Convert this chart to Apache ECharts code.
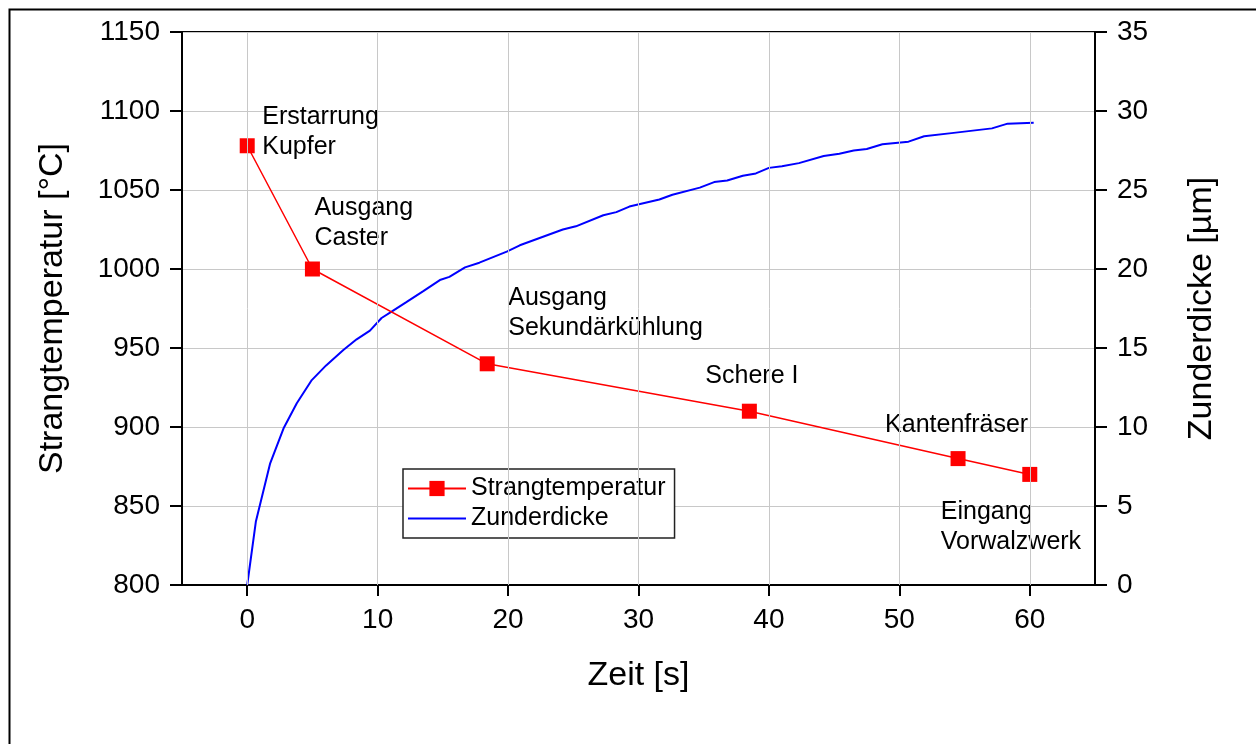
<!DOCTYPE html>
<html>
<head>
<meta charset="utf-8">
<script src="https://cdn.jsdelivr.net/npm/echarts@6/dist/echarts.min.js"></script>
<style>html,body{margin:0;padding:0;background:#fff}#c{width:1256px;height:744px}</style>
</head>
<body>
<div id="c"></div>
<script>
// Strangtemperatur (red, left axis)
const tempTime = [0, 5, 18.4, 38.5, 54.5, 60];
const tempValues = [1078, 1000, 940, 910, 880, 870];
const tempNotes = ['Erstarrung\nKupfer', 'Ausgang\nCaster', 'Ausgang\nSekundärkühlung', 'Schere I', 'Kantenfräser', 'Eingang\nVorwalzwerk'];
// Zunderdicke (blue, right axis)
const scaleTime = [0, 0.66, 1.76, 2.78, 3.8, 4.95, 6.05, 7.37, 8.39, 9.41, 10.3, 11.07, 12.2, 13.5, 14.77, 15.5, 16.7, 17.8, 19.9, 20.9, 24.2, 25.2, 27.3, 28.3, 29.3, 31.6, 32.6, 34.7, 35.8, 36.8, 38.0, 39.0, 40.0, 41.0, 42.3, 44.2, 45.4, 46.5, 47.5, 48.7, 50.7, 51.9, 54.0, 57.1, 58.3, 60.3];
const scaleValues = [0, 4.0, 7.7, 9.9, 11.5, 12.97, 13.9, 14.87, 15.55, 16.1, 16.9, 17.3, 17.9, 18.6, 19.3, 19.5, 20.1, 20.4, 21.1, 21.5, 22.5, 22.7, 23.4, 23.6, 23.95, 24.4, 24.7, 25.15, 25.5, 25.6, 25.9, 26.05, 26.4, 26.5, 26.7, 27.15, 27.3, 27.5, 27.6, 27.9, 28.06, 28.4, 28.6, 28.9, 29.2, 29.26];
const xTicks = [0, 10, 20, 30, 40, 50, 60];

const FONT = '"Liberation Sans", Arial, sans-serif';
const noteOffsets = [[15, -14], [2, -46], [21, -51], [-44, -35], [-73, -33], [-89, 53]];

const chart = echarts.init(document.getElementById('c'), null, {renderer: 'canvas'});
const axisLineStyle = {color: '#000', width: 2};
const plain = v => String(v);
const option = {
  animation: false,
  backgroundColor: '#fff',
  textStyle: {fontFamily: FONT},
  graphic: [{
    type: 'rect', left: 7, top: 7, z: 100,
    shape: {width: 1300, height: 800},
    style: {fill: 'none', stroke: '#000', lineWidth: 2}
  }],
  grid: {left: 182, top: 32, right: 161, bottom: 159, show: true, borderColor: '#000', borderWidth: 2, backgroundColor: 'transparent'},
  legend: {
    orient: 'vertical', left: 403, top: 469,
    data: [{name: 'Strangtemperatur'}, {name: 'Zunderdicke', itemStyle: {opacity: 0}}],
    itemWidth: 58, itemHeight: 19, itemGap: 5,
    padding: [7, 9, 7, 4],
    borderColor: '#222', borderWidth: 1.5, backgroundColor: '#fff',
    textStyle: {fontSize: 25, color: '#000', fontFamily: FONT}
  },
  xAxis: {
    type: 'value', min: -5, max: 65,
    name: 'Zeit [s]', nameLocation: 'middle', nameGap: 74,
    nameTextStyle: {fontSize: 34, color: '#000', fontFamily: FONT},
    axisLine: {onZero: false, lineStyle: axisLineStyle},
    axisTick: {show: true, length: 11, lineStyle: {color: '#000', width: 2}, customValues: xTicks},
    axisLabel: {fontSize: 28, color: '#000', margin: 21, customValues: xTicks, fontFamily: FONT, formatter: plain},
    splitLine: {show: false}
  },
  yAxis: [{
    type: 'value', min: 800, max: 1150, interval: 50, position: 'left',
    name: 'Strangtemperatur [°C]', nameLocation: 'middle', nameGap: 112, nameRotate: 90,
    nameTextStyle: {fontSize: 34, color: '#000', fontFamily: FONT},
    axisLine: {show: true, onZero: false, lineStyle: axisLineStyle},
    axisTick: {show: true, length: 12, lineStyle: {color: '#000', width: 2}},
    axisLabel: {fontSize: 28, color: '#000', margin: 22, fontFamily: FONT, formatter: plain},
    splitLine: {show: true, lineStyle: {color: '#c8c8c8', width: 1}}
  }, {
    type: 'value', min: 0, max: 35, interval: 5, position: 'right',
    name: 'Zunderdicke [µm]', nameLocation: 'middle', nameGap: 90, nameRotate: 90,
    nameTextStyle: {fontSize: 34, color: '#000', fontFamily: FONT},
    axisLine: {show: true, onZero: false, lineStyle: axisLineStyle},
    axisTick: {show: true, length: 12, lineStyle: {color: '#000', width: 2}},
    axisLabel: {fontSize: 28, color: '#000', margin: 22, fontFamily: FONT, formatter: plain},
    splitLine: {show: false}
  }],
  series: [{
    name: 'Zunderdicke', type: 'line', yAxisIndex: 1,
    data: scaleTime.map((t, i) => [t, scaleValues[i]]),
    showSymbol: false, symbol: 'none',
    lineStyle: {color: '#0000ff', width: 2}, itemStyle: {color: '#0000ff'},
    z: 2
  }, {
    name: 'Strangtemperatur', type: 'line', yAxisIndex: 0,
    data: tempTime.map((t, i) => ({
      value: [t, tempValues[i]],
      label: {show: true, formatter: tempNotes[i], offset: noteOffsets[i]}
    })),
    symbol: 'rect', symbolSize: 15,
    lineStyle: {color: '#ff0000', width: 1.5}, itemStyle: {color: '#ff0000'},
    label: {position: 'inside', align: 'left', verticalAlign: 'middle', fontSize: 25, lineHeight: 30, color: '#000', fontFamily: FONT},
    z: 3
  }, {
    // vertical grid lines at x ticks
    type: 'line', silent: true, data: [],
    markLine: {
      silent: true, symbol: 'none', label: {show: false}, animation: false,
      lineStyle: {color: '#c8c8c8', width: 1, type: 'solid'},
      data: xTicks.map(v => ({xAxis: v}))
    },
    z: 1
  }]
};
chart.setOption(option);
</script>
</body>
</html>
